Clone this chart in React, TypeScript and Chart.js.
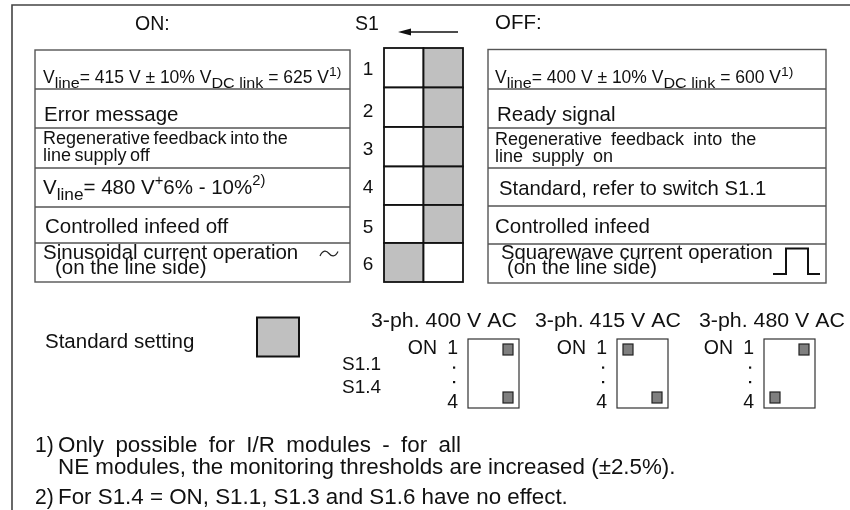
import React, { useEffect, useRef } from "react";
import { Chart, registerables } from "chart.js";

Chart.register(...registerables);

// ---------- DATA ----------
const switchNumbers = ["1", "2", "3", "4", "5", "6"];
const onLabels: string[][] = [
  ["V_{line}= 415 V ± 10% V_{DC link} = 625 V^{1)}"],
  ["Error message"],
  ["Regenerative feedback into the", "line supply off"],
  ["V_{line}= 480 V^{+}6% - 10%^{2)}"],
  ["Controlled infeed off"],
  ["Sinusoidal current operation", "(on the line side)"],
];
const offLabels: string[][] = [
  ["V_{line}= 400 V ± 10% V_{DC link} = 600 V^{1)}"],
  ["Ready signal"],
  ["Regenerative feedback into the", "line supply on"],
  ["Standard, refer to switch S1.1"],
  ["Controlled infeed"],
  ["Squarewave current operation", "(on the line side)"],
];
// position of the standard (grey) setting for each switch S1.1 … S1.6
const standardSetting = ["OFF", "OFF", "OFF", "OFF", "OFF", "ON"];
const presetTitles = ["3-ph. 400 V AC", "3-ph. 415 V AC", "3-ph. 480 V AC"];
const presetS11 = ["OFF", "ON", "OFF"];
const presetS14 = ["OFF", "OFF", "ON"];
const presetRowLabels = ["S1.1", "S1.4"];
const headerLabels = ["ON:", "S1", "OFF:"];
const legendLabel = "Standard setting";
const footnotes: [string, string[]][] = [
  ["1)", ["Only possible for I/R modules - for all", "NE modules, the monitoring thresholds are increased (±2.5%)."]],
  ["2)", ["For S1.4 = ON, S1.1, S1.3 and S1.6 have no effect."]],
];

const FONT = '"Liberation Sans", Arial, Helvetica, sans-serif';

type Opts = { sx?: number; subSx?: number; supSx?: number; ws?: number; align?: CanvasTextAlign };

function drawRich(ctx: CanvasRenderingContext2D, text: string, px: number, py: number, size: number, o: Opts = {}) {
  const parts = text.split(/(_\{[^}]*\}|\^\{[^}]*\})/).filter((s) => s.length);
  let cx = px;
  const base = o.sx ?? 1;
  for (const p of parts) {
    let t = p, sz = size, dy = 0, sx = base;
    if (p.startsWith("_{")) { t = p.slice(2, -1); sz = size * 0.8; dy = size * 0.3; sx = o.subSx ?? base; }
    else if (p.startsWith("^{")) { t = p.slice(2, -1); sz = size * 0.72; dy = -size * 0.42; sx = o.supSx ?? base; }
    ctx.save();
    ctx.font = `${sz}px ${FONT}`;
    (ctx as any).wordSpacing = `${o.ws ?? 0}px`;
    ctx.textAlign = "left";
    ctx.textBaseline = "alphabetic";
    const w = ctx.measureText(t).width;
    let ox = 0;
    if (o.align === "right") ox = -w * sx;
    if (o.align === "center") ox = (-w * sx) / 2;
    ctx.translate(cx + ox, py + dy);
    ctx.scale(sx, 1);
    ctx.fillStyle = "#111";
    ctx.fillText(t, 0, 0);
    ctx.restore();
    cx += w * sx;
  }
}

export default function App() {
  const ref = useRef<HTMLCanvasElement | null>(null);

  useEffect(() => {
    if (!ref.current) return;

    const diagram = {
      id: "switchDiagram",
      beforeDraw(chart: any) {
        const c = chart.ctx as CanvasRenderingContext2D;
        c.save();
        c.fillStyle = "#fff";
        c.fillRect(0, 0, chart.width, chart.height);
        c.restore();
      },
      afterDraw(chart: any) {
        const ctx = chart.ctx as CanvasRenderingContext2D;
        const X = (v: number) => chart.scales.x.getPixelForValue(v);
        const Y = (v: number) => chart.scales.y.getPixelForValue(v);
        const line = (pts: number[][], color: string, w: number) => {
          ctx.save();
          ctx.strokeStyle = color;
          ctx.lineWidth = w;
          ctx.beginPath();
          pts.forEach((p, i) => (i ? ctx.lineTo(X(p[0]), Y(p[1])) : ctx.moveTo(X(p[0]), Y(p[1]))));
          ctx.stroke();
          ctx.restore();
        };
        const rect = (x0: number, y0: number, x1: number, y1: number, fill: string | null, stroke: string, w: number) => {
          ctx.save();
          if (fill) { ctx.fillStyle = fill; ctx.fillRect(X(x0), Y(y0), X(x1) - X(x0), Y(y1) - Y(y0)); }
          ctx.strokeStyle = stroke;
          ctx.lineWidth = w;
          ctx.strokeRect(X(x0), Y(y0), X(x1) - X(x0), Y(y1) - Y(y0));
          ctx.restore();
        };
        const txt = (s: string, x: number, y: number, size: number, o: Opts = {}) => drawRich(ctx, s, X(x), Y(y), size, o);

        // outer frame (top and left)
        line([[12, 510], [12, 5], [850, 5]], "#444", 1.6);

        // headers
        txt(headerLabels[0], 135, 30, 19.5);
        txt(headerLabels[1], 355, 30, 19.5);
        txt(headerLabels[2], 495, 29, 19.5, { sx: 1.05 });
        // arrow
        line([[458, 32], [408, 32]], "#111", 1.3);
        ctx.save();
        ctx.fillStyle = "#111";
        ctx.beginPath();
        ctx.moveTo(X(398), Y(32));
        ctx.lineTo(X(411), Y(28.5));
        ctx.lineTo(X(411), Y(35.5));
        ctx.closePath();
        ctx.fill();
        ctx.restore();

        // ON / OFF tables
        const onEdges = [50, 89, 128, 168, 207, 243, 282];
        const offEdges = [49.5, 89, 128, 168, 206, 244, 283];
        const tables = [
          { x0: 35, x1: 350, edges: onEdges, labels: onLabels,
            lay: [
              { x: [43], y: [83], s: 17.5, o: { subSx: 1.15, supSx: 1.1 } },
              { x: [44], y: [121], s: 20.5, o: {} },
              { x: [43, 43], y: [144, 161], s: 18, o: { ws: -1.5 } },
              { x: [43], y: [194], s: 20.5, o: { subSx: 1.05 } },
              { x: [45], y: [233], s: 20.5, o: {} },
              { x: [43, 55], y: [259, 274], s: 20.5, o: {} },
            ] },
          { x0: 488, x1: 826, edges: offEdges, labels: offLabels,
            lay: [
              { x: [495], y: [83], s: 17.5, o: { subSx: 1.15, supSx: 1.1 } },
              { x: [497], y: [121], s: 20.5, o: {} },
              { x: [495, 495], y: [145, 162], s: 18, o: { ws: 4 } },
              { x: [499], y: [195], s: 20.3, o: {} },
              { x: [495], y: [233], s: 20.5, o: {} },
              { x: [501, 507], y: [259, 274], s: 20.3, o: {} },
            ] },
        ];
        tables.forEach((t) => {
          rect(t.x0, t.edges[0], t.x1, t.edges[t.edges.length - 1], null, "#555", 1.4);
          t.edges.slice(1, -1).forEach((e) => line([[t.x0, e], [t.x1, e]], "#555", 1.3));
          t.labels.forEach((lines, i) => {
            const l = t.lay[i];
            lines.forEach((s, j) => txt(s, l.x[j], l.y[j], l.s, l.o));
          });
        });
        // sine symbol
        ctx.save();
        ctx.strokeStyle = "#222";
        ctx.lineWidth = 1.2;
        ctx.beginPath();
        ctx.moveTo(X(320), Y(256));
        ctx.bezierCurveTo(X(323), Y(249.5), X(326.5), Y(250.5), X(329), Y(253.5));
        ctx.bezierCurveTo(X(331.5), Y(256.5), X(335), Y(257.5), X(338), Y(251.5));
        ctx.stroke();
        ctx.restore();
        // square wave symbol
        line([[773, 274], [786, 274], [786, 248.5], [808, 248.5], [808, 274], [820, 274]], "#111", 2);

        // switch S1 grid
        const gx = [384, 423.5, 463];
        const gy = [48, 87.5, 127, 166.5, 205, 243, 282];
        switchNumbers.forEach((n, i) => {
          const y0 = gy[i], y1 = gy[i + 1];
          const grayCol = standardSetting[i] === "ON" ? 0 : 1;
          for (let k = 0; k < 2; k++) {
            rect(gx[k], y0, gx[k + 1], y1, k === grayCol ? "#c0c0c0" : "#fff", "#111", 1.8);
          }
          txt(n, 368, [75, 117, 155, 193, 233, 270][i], 19, { align: "center" });
        });

        // standard setting legend
        txt(legendLabel, 45, 348, 20.5);
        rect(257, 317.5, 299, 356.5, "#c0c0c0", "#111", 2);

        // preset switch blocks
        txt(presetRowLabels[0], 342, 370, 19);
        txt(presetRowLabels[1], 342, 393, 19);
        const boxL = [468, 617, 764];
        presetTitles.forEach((title, i) => {
          const L = boxL[i], R = L + 51;
          txt(title, [371, 535, 699][i], 327, 20.5, { sx: 1.04 });
          txt("ON", L - 31, 354, 19.5, { align: "right" });
          txt("1", L - 10, 354, 19.5, { align: "right" });
          txt("4", L - 10, 408, 19.5, { align: "right" });
          ctx.save();
          ctx.fillStyle = "#111";
          [366.5, 381].forEach((dy) => ctx.fillRect(X(L - 15), Y(dy), 2.2, 2.2));
          ctx.restore();
          rect(L, 339, R, 408, "#fff", "#333", 1.2);
          const knob = (pos: string, y0: number) => {
            const kx = pos === "ON" ? L + 6 : R - 16;
            rect(kx, y0, kx + 10, y0 + 11, "#7f7f7f", "#222", 1.2);
          };
          knob(presetS11[i], 344);
          knob(presetS14[i], 392);
        });

        // footnotes
        const fy = [[452, 474], [504]];
        footnotes.forEach(([mark, lines], i) => {
          txt(mark, 35, fy[i][0], 21.5, { sx: 0.98 });
          lines.forEach((s, j) => txt(s, 58, fy[i][j], 21.5, { sx: 1.04, ws: i === 0 && j === 0 ? 5 : 0 }));
        });
      },
    };

    const chart = new Chart(ref.current, {
      type: "scatter",
      data: { datasets: [{ data: [], pointRadius: 0 }] },
      options: {
        animation: false,
        responsive: false,
        devicePixelRatio: 1,
        layout: { padding: 0 },
        plugins: { legend: { display: false }, tooltip: { enabled: false } },
        scales: {
          x: { type: "linear", min: 0, max: 850, display: false },
          y: { type: "linear", min: 0, max: 510, reverse: true, display: false },
        },
      },
      plugins: [diagram],
    });
    return () => chart.destroy();
  }, []);

  return (
    <div style={{ position: "absolute", left: 0, top: 0, width: 850, height: 510, background: "#fff" }}>
      <canvas ref={ref} width={850} height={510} style={{ width: 850, height: 510, display: "block" }} />
    </div>
  );
}
